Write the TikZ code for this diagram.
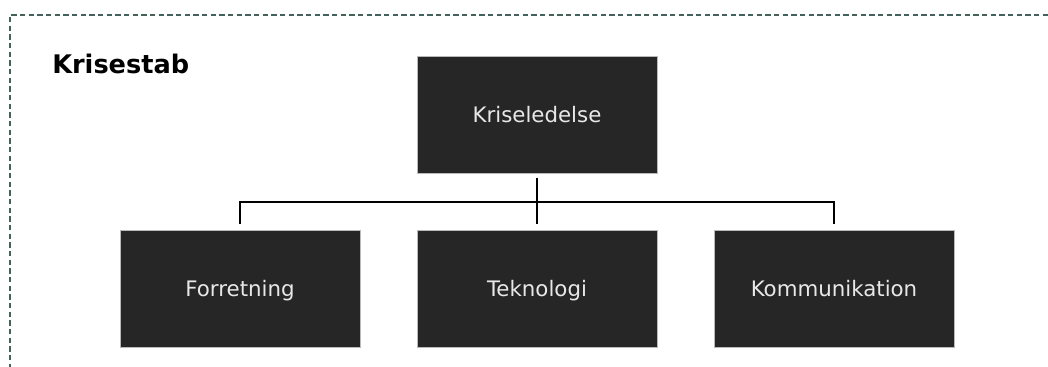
\documentclass[tikz,border=0pt]{standalone}
\usepackage{fontspec}
\setmainfont{DejaVu Sans}
\usetikzlibrary{calc}

\definecolor{boxfill}{HTML}{262626}
\definecolor{boxtext}{HTML}{E8E8E8}
\definecolor{frame}{HTML}{44615B}

\tikzset{
    unit/.style={draw=gray!55, line width=0.4pt, fill=boxfill, text=boxtext,
        minimum width=180pt, minimum height=87.75pt, inner sep=0pt,
        text height=12pt, text depth=0.3pt,
        font=\fontsize{16}{19}\selectfont},
    link/.style={line width=1.5pt, black},
}

\begin{document}
\begin{tikzpicture}[x=0.75pt, y=-0.75pt]
    \useasboundingbox (0,0) rectangle (1048,367);

    % Frame of the staff, running off the page
    \draw[frame, line width=0.8pt, dash pattern=on 4pt off 2.5pt] (1048,15) -- (10,15) -- (10,367);
    \node[anchor=base west, inner sep=0pt, font=\fontsize{19.2}{23}\selectfont\bfseries] (title) at (52,74) {Krisestab};

    % Boxes
    \node[unit] (boss) at (537,114.5) {Kriseledelse};
    \node[unit] (forr) at (240,288.5) {Forretning};
    \node[unit] (tek)  at (537,288.5) {Teknologi};
    \node[unit] (komm) at (834,288.5) {Kommunikation};

    % Connectors
    \coordinate (bus) at (537,202);
    \draw[link] ($(boss.south)+(0,5)$) -- ($(tek.north)+(0,-6)$);
    \draw[link] ($(forr.north)+(0,-6)$) |- (bus) -| ($(komm.north)+(0,-6)$);
\end{tikzpicture}
\end{document}
